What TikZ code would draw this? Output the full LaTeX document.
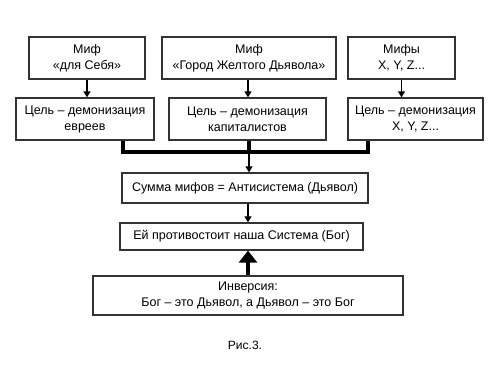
\documentclass[tikz,border=0pt]{standalone}
\usepackage{fontspec}
\setmainfont{Liberation Sans}
\usetikzlibrary{arrows.meta,calc}

\tikzset{
  mythbox/.style={draw=black!80,line width=1.3pt,align=center,inner sep=0pt,
    minimum height=42pt},
  thin/.style={line width=1.3pt,-{Triangle[length=6pt,width=7pt]}},
  bus/.style={line width=4pt,line join=miter},
}

\begin{document}
\begin{tikzpicture}[x=1pt,y=-1pt,font=\fontsize{12.5}{16}\selectfont]
\useasboundingbox (0,0) rectangle (500,375);
% top row: myths
\node[mythbox,minimum width=116pt] (mythA) at (87,58) {Миф\\«для Себя»};
\node[mythbox,minimum width=174pt] (mythB) at (249,58) {Миф\\«Город Желтого Дьявола»};
\node[mythbox,minimum width=107pt] (mythC) at (401.5,58) {Мифы\\X, Y, Z...};
% second row: goals
\node[mythbox,minimum width=138pt] (goalA) at (85,119) {Цель – демонизация\\евреев};
\node[mythbox,minimum width=157pt] (goalB) at (247.5,119) {Цель – демонизация\\капиталистов};
\node[mythbox,minimum width=135pt] (goalC) at (415.5,119) {Цель – демонизация\\X, Y, Z...};
% lower boxes
\node[mythbox,minimum width=246pt,minimum height=30pt] (sum) at (245,188) {Сумма мифов = Антисистема (Дьявол)};
\node[mythbox,minimum width=243pt,minimum height=27pt] (oppose) at (241.5,236.5) {Ей противостоит наша Система (Бог)};
\node[mythbox,minimum width=310pt,minimum height=39pt] (inversion) at (248,295.5) {Инверсия:\\Бог – это Дьявол, а Дьявол – это Бог};
\node[font=\fontsize{12}{14}\selectfont] (caption) at (245,345) {Рис.3.};
% arrows myth -> goal
\draw[thin] (mythA.south) -- (mythA.south |- goalA.north);
\draw[thin] (mythB.south -| 248,0) -- (goalB.north -| 248,0);
\draw[thin] (mythC.south) -- (mythC.south |- goalC.north);
% collecting bus
\coordinate (busL) at (123,152);
\coordinate (busM) at (249,152);
\coordinate (busR) at (368,152);
\draw[bus] (goalA.south -| busL) -- (busL) -- (busR) -- (goalC.south -| busR);
\draw[bus] (goalB.south -| busM) -- (busM);
\draw[thin] (busM) -- (sum.north -| busM);
\draw[thin] (sum.south -| 248,0) -- (oppose.north -| 248,0);
% inversion
\draw[line width=4pt,-{Triangle[length=12pt,width=18pt]}] (inversion.north -| 248,0) -- (oppose.south -| 248,0);
\end{tikzpicture}
\end{document}
